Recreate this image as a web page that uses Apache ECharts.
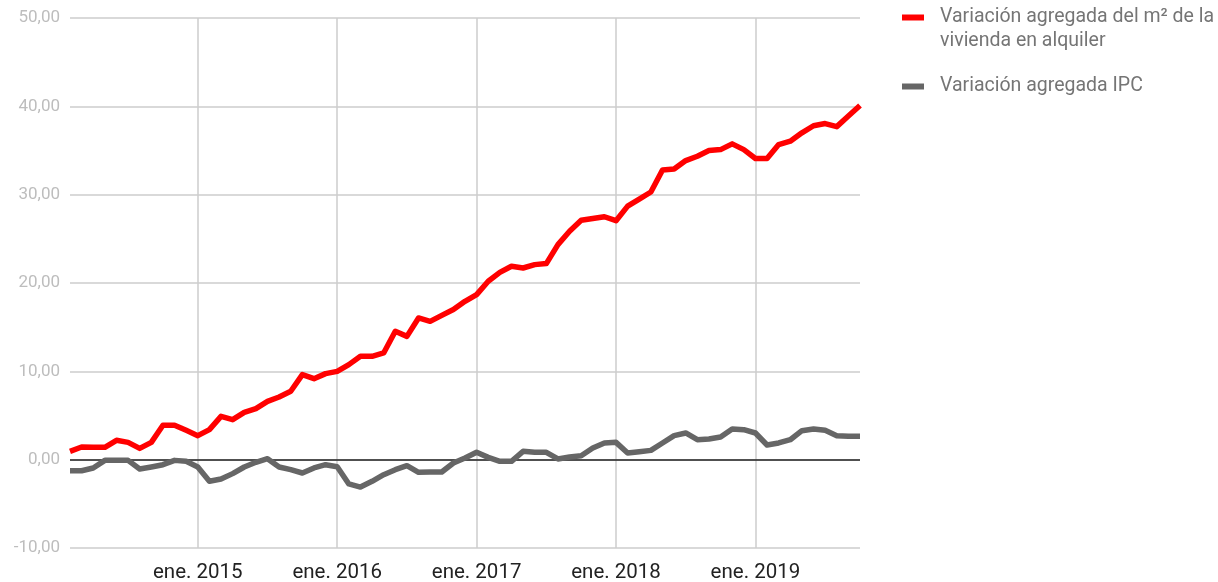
<!DOCTYPE html>
<html>
<head>
<meta charset="utf-8">
<script src="https://cdn.jsdelivr.net/npm/echarts@6/dist/echarts.min.js"></script>
<style>
html,body{margin:0;padding:0;background:#fff;}
#chart{width:1218px;height:582px;}
</style>
</head>
<body>
<div id="chart"></div>
<script>
const months = [
  "2014-02","2014-03","2014-04","2014-05","2014-06","2014-07","2014-08","2014-09","2014-10","2014-11","2014-12",
  "2015-01","2015-02","2015-03","2015-04","2015-05","2015-06","2015-07","2015-08","2015-09","2015-10","2015-11","2015-12",
  "2016-01","2016-02","2016-03","2016-04","2016-05","2016-06","2016-07","2016-08","2016-09","2016-10","2016-11","2016-12",
  "2017-01","2017-02","2017-03","2017-04","2017-05","2017-06","2017-07","2017-08","2017-09","2017-10","2017-11","2017-12",
  "2018-01","2018-02","2018-03","2018-04","2018-05","2018-06","2018-07","2018-08","2018-09","2018-10","2018-11","2018-12",
  "2019-01","2019-02","2019-03","2019-04","2019-05","2019-06","2019-07","2019-08","2019-09","2019-10"
];
const rentName = "Variación agregada del m² de la vivienda en alquiler";
const ipcName = "Variación agregada IPC";
const rentValues = [
  0.94, 1.43, 1.40, 1.40, 2.19, 1.96, 1.28, 1.96, 3.89, 3.89, 3.32,
  2.72, 3.40, 4.90, 4.53, 5.36, 5.78, 6.60, 7.10, 7.74, 9.63, 9.17, 9.74,
  10.00, 10.76, 11.70, 11.70, 12.08, 14.53, 13.96, 16.04, 15.66, 16.34, 16.99, 17.93,
  18.69, 20.20, 21.20, 21.90, 21.70, 22.08, 22.20, 24.35, 25.86, 27.10, 27.30, 27.50,
  27.05, 28.70, 29.50, 30.30, 32.80, 32.90, 33.86, 34.35, 35.00, 35.10, 35.75, 35.10,
  34.10, 34.10, 35.67, 36.05, 37.00, 37.80, 38.05, 37.70, 38.90, 40.10
];
const ipcValues = [
  -1.25, -1.25, -0.94, -0.08, -0.08, -0.08, -1.06, -0.83, -0.57, -0.08, -0.19,
  -0.83, -2.45, -2.19, -1.58, -0.83, -0.30, 0.11, -0.83, -1.13, -1.51, -0.94, -0.57,
  -0.80, -2.75, -3.10, -2.45, -1.70, -1.13, -0.68, -1.43, -1.40, -1.40, -0.38, 0.19,
  0.83, 0.26, -0.19, -0.19, 0.94, 0.83, 0.83, 0.08, 0.30, 0.45, 1.32, 1.89,
  1.96, 0.75, 0.90, 1.05, 1.89, 2.72, 3.02, 2.26, 2.34, 2.57, 3.47, 3.40,
  3.02, 1.66, 1.89, 2.26, 3.28, 3.47, 3.32, 2.72, 2.64, 2.64
];
const monthAbbr = {"01":"ene."};
const yMin = -10, yMax = 50, yStep = 10;

const isJanuary = (idx) => months[idx].slice(5) === "01";

const chart = echarts.init(document.getElementById('chart'), null, {renderer: 'canvas'});
chart.setOption({
  animation: false,
  backgroundColor: '#ffffff',
  textStyle: {fontFamily: 'Roboto'},
  grid: {left: 70, right: 358, top: 18, bottom: 34, containLabel: false, outerBoundsMode: 'none'},
  legend: {
    orient: 'vertical',
    left: 902,
    top: -18.5,
    padding: 0,
    itemGap: 21,
    itemWidth: 22,
    itemHeight: 6,
    icon: 'rect',
    selectedMode: false,
    textStyle: {color: '#757575', fontSize: 19.5, lineHeight: 24, fontFamily: 'Roboto', padding: [0, 0, 0, 11]},
    formatter: function (name) {
      if (name === rentName) {
        return '\nVariación agregada del m² de la\nvivienda en alquiler';
      }
      return name;
    },
    data: [rentName, ipcName]
  },
  xAxis: {
    type: 'category',
    data: months,
    boundaryGap: false,
    axisLine: {show: false},
    axisTick: {show: false},
    axisLabel: {
      interval: function (idx) { return isJanuary(idx); },
      formatter: function (v) { return monthAbbr[v.slice(5)] + ' ' + v.slice(0, 4); },
      color: '#222222',
      fontSize: 20.5,
      lineHeight: 22,
      fontFamily: 'Roboto',
      margin: 14
    },
    splitLine: {
      show: true,
      interval: function (idx) { return isJanuary(idx); },
      lineStyle: {color: '#cccccc', width: 1.5}
    }
  },
  yAxis: {
    type: 'value',
    min: yMin,
    max: yMax,
    interval: yStep,
    axisLine: {show: false},
    axisTick: {show: false},
    axisLabel: {
      formatter: function (v) { return v.toFixed(2).replace('.', ','); },
      color: '#bdbdbd',
      fontSize: 17,
      fontFamily: 'Roboto',
      margin: 10
    },
    splitLine: {lineStyle: {color: '#cccccc', width: 1.5}}
  },
  series: [
    {
      name: rentName,
      type: 'line',
      data: rentValues,
      symbol: 'none',
      smooth: false,
      color: '#ff0000',
      lineStyle: {color: '#ff0000', width: 5.5, join: 'round'},
      z: 3
    },
    {
      name: ipcName,
      type: 'line',
      data: ipcValues,
      symbol: 'none',
      smooth: false,
      color: '#666666',
      lineStyle: {color: '#666666', width: 5.5, join: 'round'},
      z: 3,
      markLine: {
        silent: true,
        symbol: 'none',
        label: {show: false},
        lineStyle: {color: '#222222', width: 1.5, type: 'solid'},
        data: [{yAxis: 0}],
        z: 2
      }
    }
  ]
});
</script>
</body>
</html>
